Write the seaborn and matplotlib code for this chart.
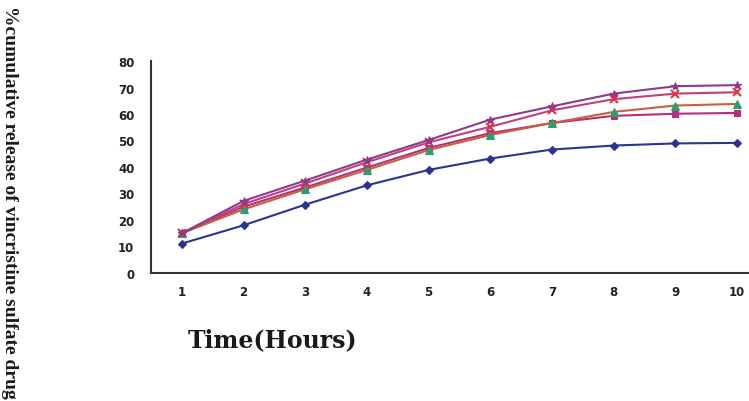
import matplotlib
matplotlib.use("Agg")
import matplotlib.pyplot as plt
import seaborn as sns
import pandas as pd

hours = [1, 2, 3, 4, 5, 6, 7, 8, 9, 10]
s_blue = [11.1, 18.0, 25.8, 33.1, 38.9, 43.2, 46.6, 48.1, 48.9, 49.1]
s_square = [15.0, 25.0, 32.3, 39.8, 47.2, 52.8, 56.6, 59.3, 60.1, 60.4]
s_tri = [15.0, 24.0, 31.6, 38.9, 46.4, 52.1, 56.6, 60.8, 63.2, 63.8]
s_x = [15.0, 26.0, 33.8, 41.8, 49.3, 55.2, 61.4, 65.6, 67.7, 68.2]
s_star = [15.0, 27.2, 34.9, 42.8, 50.2, 57.9, 62.9, 67.7, 70.5, 70.9]
y_ticks = [0, 10, 20, 30, 40, 50, 60, 70, 80]

sns.set_style("white")
plt.rcParams['font.family'] = ['DejaVu Sans']

fig = plt.figure(figsize=(7.49, 4.02), dpi=100)
ax = fig.add_axes([151/749, 1 - 274/402, (768 - 151)/749, (274 - 62)/402])

series = [
    (s_blue, "D", "#2b3591", "#2b3591", "#2b3591", 4),
    (s_square, "s", "#b2307c", "#b2307c", "#b2307c", 5),
    (s_tri, "^", "#c8603c", "#2aa070", "#2aa070", 6),
    (s_x, "x", "#c0407c", "#e8303a", "#e8303a", 6),
    (s_star, "*", "#8e3a8e", "#8e3a8e", "#8e3a8e", 6),
]
for vals, mk, lc, mfc, mec, ms in series:
    df = pd.DataFrame({"h": hours, "v": vals})
    sns.lineplot(data=df, x="h", y="v", ax=ax, color=lc, marker=mk,
                 markersize=ms, markerfacecolor=mfc, markeredgecolor=mec,
                 markeredgewidth=1.5 if mk == "x" else 0.8, linewidth=1.5)

ax.set_xlim(0.5, 10.5)
ax.set_ylim(0, 80)
ax.set_yticks(y_ticks)
ax.set_yticklabels([str(t) for t in y_ticks], fontsize=8.5, fontweight="bold", color="#222222")
ax.set_xticks(hours)
ax.set_xticklabels([str(h) for h in hours], fontsize=8.5, fontweight="bold", color="#222222")
ax.set_xticks([h + 0.5 for h in hours[:-1]], minor=True)
ax.tick_params(axis="x", which="major", length=0, pad=9)
ax.tick_params(axis="x", which="minor", length=3, width=1, direction="out", color="#333333")
ax.tick_params(axis="y", which="major", length=4, width=1, direction="out", color="#333333", pad=8)
ax.set_xlabel("")
ax.set_ylabel("")
for s in ["top", "right"]:
    ax.spines[s].set_visible(False)
for s in ["left", "bottom"]:
    ax.spines[s].set_color("#333333")
    ax.spines[s].set_linewidth(1.5)

fig.text(273/749, 1 - 340/402, "Time(Hours)", fontsize=17, fontweight="bold",
         family="DejaVu Serif", ha="center", va="center", color="#1a1a1a")
fig.text(9/749, 1 - 202/402, "%cumulative release of vincristine sulfate drug", fontsize=14,
         fontweight="bold", family="Liberation Serif", rotation=-90,
         ha="center", va="center", color="#1a1a1a")

fig.savefig("out.png", dpi=100)
